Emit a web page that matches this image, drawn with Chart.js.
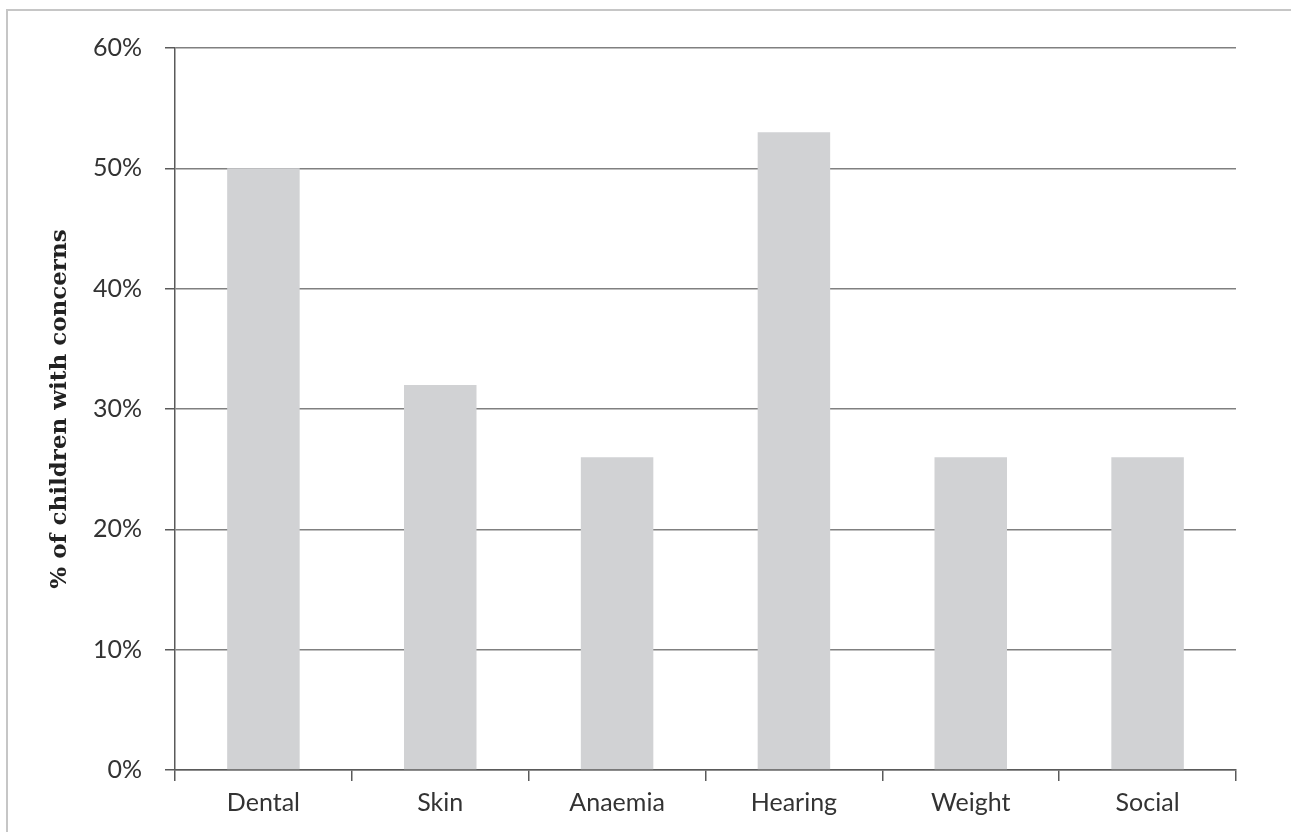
<!DOCTYPE html>
<html>
<head>
<meta charset="utf-8">
<script src="https://cdn.jsdelivr.net/npm/chart.js@4/dist/chart.umd.min.js"></script>
<style>
  html, body { margin: 0; padding: 0; background: #fff; overflow: hidden; }
  #wrap { position: relative; width: 1291px; height: 832px; }
  #frame { position: absolute; left: 6px; top: 9px; right: -10px; bottom: -10px;
           border: 2px solid #c6c6c6; pointer-events: none; }
  canvas { position: absolute; left: 0; top: 0; }
</style>
</head>
<body>
<div id="wrap">
  <canvas id="chart" width="1291" height="832"></canvas>
  <div id="frame"></div>
</div>
<script>
// Health concerns found at screening, share of children per area
const categories = ['Dental', 'Skin', 'Anaemia', 'Hearing', 'Weight', 'Social'];
const concernPct = [50, 32, 26, 53, 26, 26];
const yTicks = [0, 10, 20, 30, 40, 50, 60];
const yTitle = '% of children with concerns';

const labelFont = { family: 'Lato, "Open Sans", sans-serif', size: 25, weight: 'normal' };

new Chart(document.getElementById('chart'), {
  type: 'bar',
  data: {
    labels: categories,
    datasets: [{
      data: concernPct,
      backgroundColor: '#d1d2d4',
      borderWidth: 0,
      barPercentage: 0.41,
      categoryPercentage: 1.0
    }]
  },
  options: {
    responsive: false,
    animation: false,
    devicePixelRatio: 1,
    layout: { padding: { left: 0, top: 48, right: 55, bottom: 0 } },
    plugins: { legend: { display: false }, tooltip: { enabled: false } },
    scales: {
      x: {
        offset: true,
        grid: {
          display: true,
          offset: true,
          drawOnChartArea: false,
          drawTicks: true,
          tickLength: 11,
          tickColor: '#5a5a5a',
          lineWidth: 1.5
        },
        border: { display: true, color: '#5a5a5a', width: 1.5 },
        ticks: { color: '#333', font: labelFont, padding: 7, maxRotation: 0 },
        afterFit: (s) => { s.height = 62; }
      },
      y: {
        min: 0,
        max: 60,
        afterBuildTicks: (s) => { s.ticks = yTicks.map(v => ({ value: v })); },
        grid: {
          color: '#808080',
          lineWidth: 1.5,
          drawTicks: true,
          tickLength: 10,
          tickColor: '#5a5a5a'
        },
        border: { display: true, color: '#5a5a5a', width: 1.5 },
        ticks: {
          color: '#333',
          font: labelFont,
          padding: 23,
          callback: (v) => v + '%'
        },
        title: {
          display: true,
          text: yTitle,
          color: '#222',
          font: { family: '"DejaVu Serif", "Liberation Serif", serif', size: 23, weight: 'bold' },
          padding: { top: 46, bottom: 0 }
        },
        afterFit: (s) => { s.width = 175; }
      }
    }
  }
});
</script>
</body>
</html>
